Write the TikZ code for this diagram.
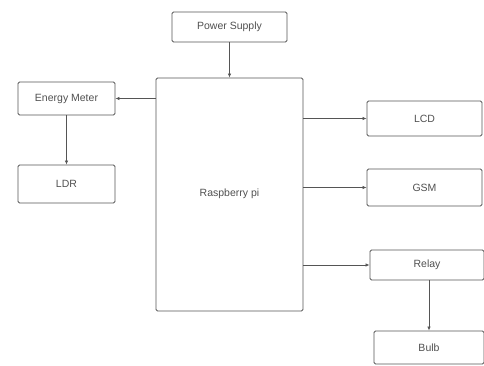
\documentclass[tikz,border=0pt]{standalone}
\usepackage{fontspec}
\setmainfont{Liberation Sans}
\usetikzlibrary{arrows.meta}
\definecolor{edge}{HTML}{555555}
\definecolor{txt}{HTML}{505050}
\begin{document}
\begin{tikzpicture}[x=1pt,y=-1pt,
  blk/.style={draw=edge,line width=0.9pt,rounded corners=1.5pt,inner sep=0pt,font=\fontsize{10.5}{12}\selectfont,text=txt},
  conn/.style={draw=edge,line width=0.7pt,-{Latex[length=4pt,width=3.5pt]}}]
\useasboundingbox (0,0) rectangle (484,366);
\node[blk,minimum width=115pt,minimum height=30pt] (ps) at (229.5,27) {Power Supply};
\node[blk,minimum width=147pt,minimum height=233pt] (rpi) at (229.5,194.5) {};
\node[text=txt,font=\fontsize{10.5}{12}\selectfont] (rpil) at (229.5,194) {Raspberry pi};
\node[blk,minimum width=97pt,minimum height=33pt] (em) at (66.5,98.5) {Energy Meter};
\node[blk,minimum width=97pt,minimum height=38pt] (ldr) at (66.5,184) {LDR};
\node[blk,minimum width=115pt,minimum height=35pt] (lcd) at (424.5,118.5) {LCD};
\node[blk,minimum width=115pt,minimum height=37pt] (gsm) at (424.5,187.5) {GSM};
\node[blk,minimum width=114pt,minimum height=30pt] (relay) at (427,265) {Relay};
\node[blk,minimum width=110pt,minimum height=33pt] (bulb) at (429,347.5) {Bulb};
\draw[conn] (ps) -- (rpi);
\draw[conn] (rpi.west |- em.east) -- (em.east);
\draw[conn] (em) -- (ldr);
\draw[conn] (rpi.east |- lcd.west) -- (lcd.west);
\draw[conn] (rpi.east |- gsm.west) -- (gsm.west);
\draw[conn] (rpi.east |- relay.west) -- (relay.west);
\draw[conn] (relay.south -| bulb.north) -- (bulb.north);
\end{tikzpicture}
\end{document}
